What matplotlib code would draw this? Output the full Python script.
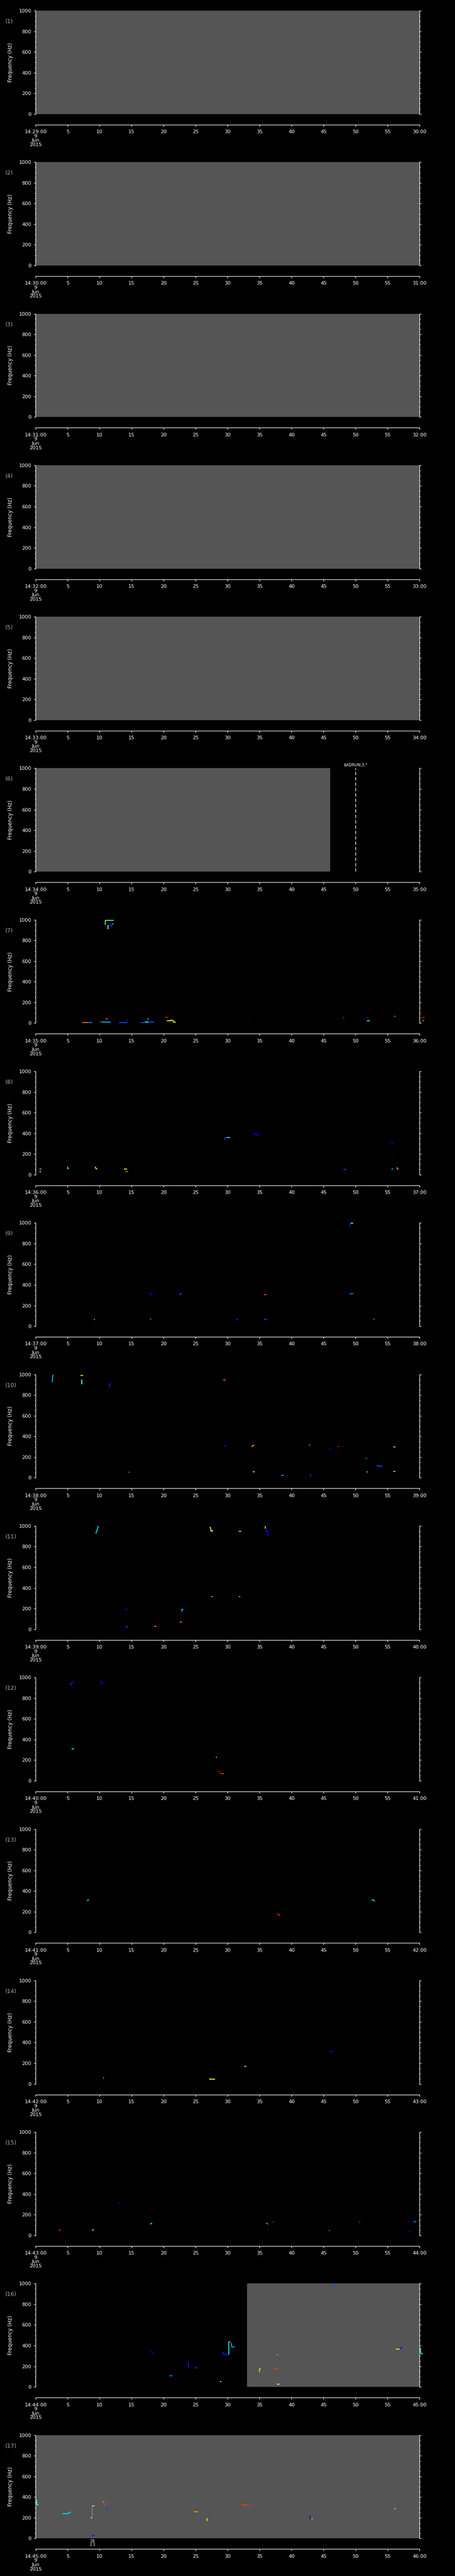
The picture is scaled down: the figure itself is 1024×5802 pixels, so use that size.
import matplotlib
matplotlib.use("Agg")
from matplotlib import pyplot as plt

# --- data -------------------------------------------------------------
start_minutes = list(range(29, 46))          # 14:29 ... 14:45, one panel per minute
panel_labels = ['(%d)' % n for n in range(1, 18)]

# grey "no data" span per panel (seconds), None = no grey area
gray_from = [0, 0, 0, 0, 0, 0, None, None, None, None, None, None, None, None, None, 33, 0]
gray_to = [60, 60, 60, 60, 60, 46, None, None, None, None, None, None, None, None, None, 60, 60]

# marker line in panel 6
marker_time = 50
marker_text = r'\$ADRUN,3,*'

# spectrogram traces: (seconds, frequency Hz, colour level 0..1)
tracks_07 = [
    ([10.9, 10.9, 12.2], [950, 995, 995], 0.45),
    ([11.3, 11.3], [950, 907], 0.68),
    ([11.0, 11.2], [920, 920], 0.12),
    ([11.6, 11.8, 11.9], [965, 930, 960], 0.15),
    ([11.9, 12.1], [962, 962], 0.35),
    ([7.3, 8.2], [5, 5], 0.8),
    ([8.2, 8.9], [6, 6], 0.25),
    ([10.1, 10.2], [13, 11], 0.68),
    ([10.3, 11.7], [9, 9], 0.3),
    ([10.9, 11.3], [40, 40], 0.85),
    ([13.0, 14.3], [5, 5], 0.2),
    ([14.2, 14.4], [28, 32], 0.15),
    ([16.4, 17.0, 17.0, 18.5], [6, 6, 12, 10], 0.2),
    ([17.1, 17.6], [12, 12], 0.4),
    ([17.5, 17.7], [40, 40], 0.35),
    ([20.2, 20.7], [57, 55], 0.9),
    ([20.5, 21.1, 21.1, 21.5, 21.5, 21.9], [23, 23, 30, 26, 10, 10], 0.6),
    ([33.3, 33.4], [0, 0], 0.1),
    ([48.1, 48.2], [53, 53], 0.4),
    ([51.7, 51.9], [56, 53], 0.15),
    ([51.8, 52.2], [23, 23], 0.38),
    ([56.0, 56.2], [66, 66], 0.3),
    ([60.4, 60.8], [55, 55], 0.9),
    ([60.5, 60.6], [27, 20], 0.6),
]
tracks_08 = [
    ([0.5, 0.7], [56, 56], 0.9),
    ([0.7, 0.9], [56, 56], 0.4),
    ([0.6, 0.8], [31, 31], 0.6),
    ([5.0, 5.0, 5.2], [77, 60, 57], 0.38),
    ([9.3, 9.4, 9.6], [77, 62, 53], 0.65),
    ([13.8, 14.3], [53, 53], 0.55),
    ([14.0, 14.4], [29, 29], 0.85),
    ([29.5, 29.7, 30.4], [341, 360, 360], 0.2),
    ([29.9, 30.3], [361, 361], 0.45),
    ([34.1, 34.4, 34.6, 34.8], [382, 400, 382, 385], 0.12),
    ([48.1, 48.5], [50, 50], 0.2),
    ([55.6, 55.8], [301, 313], 0.12),
    ([55.7, 55.75], [153, 153], 0.15),
    ([55.6, 55.9], [55, 55], 0.3),
    ([56.5, 56.5, 56.7], [71, 58, 53], 0.75),
]
tracks_09 = [
    ([9.1, 9.3], [63, 63], 0.3),
    ([17.9, 18.0, 18.3], [299, 313, 313], 0.12),
    ([17.9, 18.0], [67, 67], 0.4),
    ([22.5, 22.8], [309, 313], 0.25),
    ([31.3, 31.7], [67, 63], 0.15),
    ([35.7, 35.8, 36.1], [299, 307, 307], 0.85),
    ([35.7, 35.8, 36.2], [59, 67, 67], 0.18),
    ([49.1, 49.2, 49.6], [967, 999, 999], 0.15),
    ([49.2, 49.6], [998, 998], 0.4),
    ([49.1, 49.6], [313, 313], 0.25),
    ([52.8, 53.0], [70, 67], 0.8),
]
tracks_10 = [
    ([2.6, 2.6, 2.7, 2.8], [924, 950, 993, 993], 0.3),
    ([7.0, 7.4], [991, 991], 0.7),
    ([7.1, 7.2, 7.2, 7.3], [946, 946, 910, 907], 0.45),
    ([11.5, 11.5, 11.7], [874, 907, 907], 0.15),
    ([29.3, 29.7], [950, 946], 0.8),
    ([14.5, 14.7], [54, 54], 0.25),
    ([29.4, 29.8], [311, 307], 0.15),
    ([33.8, 33.9, 34.2], [296, 313, 313], 0.75),
    ([33.9, 34.2], [59, 59], 0.6),
    ([38.4, 38.7], [24, 24], 0.3),
    ([42.7, 42.9], [320, 314], 0.3),
    ([42.8, 43.0], [24, 24], 0.2),
    ([45.9, 46.1], [281, 271], 0.12),
    ([47.2, 47.4], [301, 301], 0.92),
    ([51.6, 51.8], [187, 187], 0.25),
    ([51.7, 51.9], [59, 53], 0.35),
    ([53.3, 53.5, 54.2], [121, 113, 110], 0.2),
    ([55.9, 56.2], [299, 299], 0.45),
    ([55.9, 56.2], [61, 61], 0.45),
]
tracks_11 = [
    ([9.4, 9.6, 9.8], [927, 960, 999], 0.35),
    ([27.2, 27.3, 27.4, 27.7], [989, 985, 950, 950], 0.6),
    ([27.5, 27.7], [955, 955], 0.35),
    ([31.7, 32.1], [950, 950], 0.7),
    ([35.9, 35.9], [999, 975], 0.68),
    ([36.0, 36.0, 36.3, 36.3], [975, 950, 950, 907], 0.12),
    ([14.0, 14.3], [191, 191], 0.15),
    ([22.8, 22.8, 23.1], [170, 191, 191], 0.3),
    ([27.5, 27.7], [317, 317], 0.38),
    ([31.7, 32.0], [318, 314], 0.3),
    ([22.5, 22.7, 22.8], [74, 70, 63], 0.8),
    ([14.1, 14.4], [24, 24], 0.2),
    ([18.5, 18.9], [29, 29], 0.8),
]
tracks_12 = [
    ([5.5, 5.5, 5.7, 5.9], [920, 945, 950, 950], 0.15),
    ([10.2, 10.3, 10.5], [967, 945, 941], 0.12),
    ([5.6, 6.0], [309, 309], 0.35),
    ([28.2, 28.3], [226, 226], 0.55),
    ([28.6, 28.9], [89, 84], 0.9),
    ([28.9, 29.4], [67, 67], 0.85),
]
tracks_13 = [
    ([8.0, 8.2, 8.3], [310, 310, 317], 0.35),
    ([37.7, 37.9, 38.2], [177, 172, 164], 0.88),
    ([52.5, 52.8, 53.0], [313, 313, 301], 0.35),
]
tracks_14 = [
    ([10.5, 10.7], [59, 59], 0.38),
    ([27.2, 27.2, 28.0], [54, 44, 44], 0.62),
    ([32.6, 32.9], [170, 170], 0.65),
    ([46.0, 46.4], [312, 314], 0.15),
]
tracks_15 = [
    ([3.6, 3.9], [49, 49], 0.85),
    ([8.8, 9.1], [50, 56], 0.5),
    ([12.9, 13.1], [312, 310], 0.15),
    ([17.9, 18.2], [109, 119], 0.4),
    ([36.0, 36.3], [119, 109], 0.3),
    ([37.1, 37.2], [127, 127], 0.38),
    ([45.8, 46.0], [46, 48], 0.85),
    ([50.6, 50.7], [130, 130], 0.38),
    ([58.4, 58.6], [39, 39], 0.15),
    ([59.1, 59.5], [132, 132], 0.25),
]
tracks_16 = [
    ([18.0, 18.5], [345, 324], 0.12),
    ([20.9, 21.4], [108, 108], 0.25),
    ([23.9, 23.9], [240, 182], 0.15),
    ([24.9, 25.2], [186, 186], 0.2),
    ([28.8, 29.0], [50, 50], 0.6),
    ([29.3, 29.3, 30.2], [340, 315, 315], 0.15),
    ([30.2, 30.2], [315, 445], 0.38),
    ([30.3, 30.5], [440, 430], 0.85),
    ([30.6, 30.6, 31.1], [425, 390, 385], 0.3),
    ([35.0, 35.0, 35.2], [142, 176, 176], 0.7),
    ([37.3, 37.9], [178, 170], 0.85),
    ([37.6, 37.9], [315, 307], 0.3),
    ([37.7, 38.1], [27, 27], 0.6),
    ([46.5, 46.6, 46.8], [977, 1000, 1000], 0.2),
    ([56.3, 56.9], [365, 365], 0.6),
    ([56.9, 57.3], [365, 388], 0.12),
    ([57.5, 57.55], [201, 201], 0.25),
    ([60.1, 60.2, 60.5], [378, 322, 320], 0.4),
]
tracks_17 = [
    ([0.1, 0.2, 0.45], [379, 327, 327], 0.4),
    ([4.2, 5.0, 5.5], [240, 240, 258], 0.35),
    ([8.6, 8.8], [202, 196], 0.65),
    ([8.8, 9.2], [317, 317], 0.45),
    ([8.8, 9.2], [29, 29], 0.15),
    ([10.5, 10.6], [361, 355], 0.38),
    ([10.6, 10.8], [355, 317], 0.85),
    ([10.9, 11.3], [311, 275], 0.2),
    ([24.7, 25.4], [260, 257], 0.75),
    ([26.8, 26.8], [196, 169], 0.65),
    ([32.1, 33.3], [325, 322], 0.85),
    ([40.0, 40.2], [67, 67], 0.2),
    ([42.9, 42.9], [221, 187], 0.12),
    ([43.1, 43.3], [195, 185], 0.75),
    ([56.0, 56.3], [290, 290], 0.42),
]
# thin connector + note in panel 17
link_t = [8.8, 8.8]
link_f = [205, 317]
note_t = 8.84
note_text = '18\n2.3'

all_tracks = [[], [], [], [], [], [], tracks_07, tracks_08, tracks_09, tracks_10,
              tracks_11, tracks_12, tracks_13, tracks_14, tracks_15, tracks_16, tracks_17]

# --- layout -----------------------------------------------------------
W, H = 1024, 5802
step = H / 17.0
left_px, width_px = 80.3, 864.1
top0, plot_h = 24.0, 232.7

fig = plt.figure(figsize=(W / 100, H / 100), dpi=100, facecolor='black')
jet = plt.get_cmap('jet')

for i in range(17):
    top = top0 + i * step
    ax = fig.add_axes([left_px / W, 1 - (top + plot_h) / H, width_px / W, plot_h / H])
    ax.set_facecolor('black')
    ax.set_xlim(0, 60)
    ax.set_ylim(0, 1000)

    if gray_from[i] is not None:
        ax.axvspan(gray_from[i], gray_to[i], color='#555555', lw=0, zorder=0)

    for t, f, lev in all_tracks[i]:
        ax.plot(t, f, color=jet(lev), lw=1.5, solid_capstyle='butt', clip_on=False, zorder=3)

    # spines
    ax.spines['top'].set_visible(False)
    ax.spines['bottom'].set_position(('outward', 17.3))
    for s in ['left', 'right', 'bottom']:
        ax.spines[s].set_color('white')
        ax.spines[s].set_linewidth(0.9)

    # y axis
    ax.set_yticks(range(0, 1001, 200))
    ax.set_yticks(range(0, 1001, 50), minor=True)
    ax.tick_params(axis='y', which='both', left=True, right=True, direction='out',
                   colors='white', width=0.9, labelsize=8, pad=4)
    ax.tick_params(axis='y', which='major', length=3)
    ax.tick_params(axis='y', which='minor', length=1.7)

    # x axis
    m = start_minutes[i]
    xl = ['14:%02d:00\n9\nJun\n2015' % m] + [str(s) for s in range(5, 60, 5)] + ['%02d:00' % (m + 1)]
    ax.set_xticks(range(0, 61, 5))
    ax.set_xticklabels(xl, linespacing=0.95)
    ax.tick_params(axis='x', direction='out', length=3.2, width=0.9, colors='white',
                   labelsize=8, pad=5)

    ax.text(-0.066, 0.5, 'Frequency (Hz)', rotation=90, ha='center', va='center',
            color='white', fontsize=8.5, transform=ax.transAxes)
    ax.text(-0.079, 1 - 24.5 / plot_h, panel_labels[i], ha='left', va='center',
            color='#a8a8a8', fontsize=9, transform=ax.transAxes)

    if i == 5:
        ax.axvline(marker_time, color='white', lw=1.0, dashes=(5.5, 3.2), zorder=4)
        ax.annotate(marker_text, xy=(marker_time, 1.0), xycoords=('data', 'axes fraction'),
                    xytext=(0, 2), textcoords='offset points', ha='center', va='bottom',
                    color='white', fontsize=6.5)
    if i == 16:
        ax.plot(link_t, link_f, color='#cccccc', lw=0.5, zorder=3)
        ax.annotate(note_text, xy=(note_t, 0), xycoords='data', xytext=(0, -1),
                    textcoords='offset points', ha='center', va='top', color='white',
                    fontsize=6, linespacing=0.9, annotation_clip=False)

plt.savefig('out.png', dpi=100, facecolor='black')
